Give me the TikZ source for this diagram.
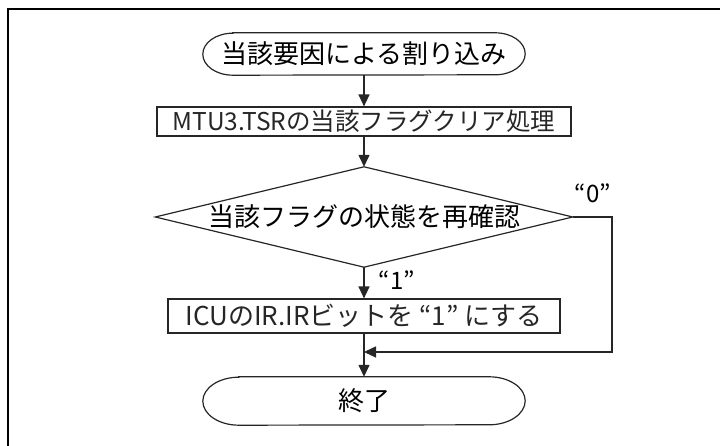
\documentclass[tikz,border=0pt]{standalone}
\usepackage{fontspec}
\setmainfont{Noto Sans CJK JP}
\usetikzlibrary{arrows.meta}
\begin{document}
\begin{tikzpicture}[x=1pt,y=1pt,
  txt/.style={font=\fontsize{26}{30}\selectfont, inner sep=0pt},
  lbl/.style={font=\fontsize{24}{28}\selectfont, inner sep=0pt},
  shapeline/.style={line width=1.2pt, black!85},
  holder/.style={txt, rectangle, draw=none, inner sep=0pt},
  procbox/.style={txt, rectangle, shapeline, draw, inner sep=0pt},
  conn/.style={line width=1.4pt, black!85},
  arr/.style={conn, -{Triangle[width=11pt,length=12pt]}},
  frameline/.style={line width=2pt, black}
]
\useasboundingbox (0,0) rectangle (720,446);
% frame
\draw[frameline] (8,0) -- (8,437) -- (720,437);

% nodes
\node[holder, minimum width=322pt, minimum height=42pt] (st) at (364,392) {当該要因による割り込み};
\node[procbox, minimum width=414pt, minimum height=29pt, font=\fontsize{24.5}{28}\selectfont] (clr) at (364,324.5) {MTU3.TSRの当該フラグクリア処理};
\node[holder, minimum width=417pt, minimum height=100pt] (dia) at (364,229) {当該フラグの状態を再確認};
\node[procbox, minimum width=392pt, minimum height=34pt] (ir) at (364,130) {ICUのIR.IRビットを “1” にする};
\node[holder, minimum width=322pt, minimum height=48pt] (en) at (364,45) {終了};

\node[lbl] (l0) at (593,253) {“0”};
\node[lbl] (l1) at (397,166) {“1”};

% outlines
\draw[shapeline] ([xshift=30pt]st.north west) -- ([xshift=-30pt]st.north east)
  arc[start angle=90,end angle=-90,x radius=30pt,y radius=21pt]
  -- ([xshift=30pt]st.south west)
  arc[start angle=270,end angle=90,x radius=30pt,y radius=21pt] -- cycle;
\draw[shapeline] (dia.north) -- (dia.east) -- (dia.south) -- (dia.west) -- cycle;
\draw[shapeline] ([xshift=36pt]en.north west) -- ([xshift=-36pt]en.north east)
  arc[start angle=90,end angle=-90,x radius=36pt,y radius=24pt]
  -- ([xshift=36pt]en.south west)
  arc[start angle=270,end angle=90,x radius=36pt,y radius=24pt] -- cycle;

% connectors
\coordinate (rt) at (612,229);
\coordinate (rb) at (612,94);
\coordinate (mg) at (364,94);
\draw[arr] (st.south) -- (clr.north);
\draw[arr] (clr.south) -- (dia.north);
\draw[arr] (dia.south) -- (ir.north);
\draw[arr] (ir.south) -- (en.north);
\draw[arr] (dia.east) -- (rt) -- (rb) -- (mg);
\end{tikzpicture}
\end{document}
